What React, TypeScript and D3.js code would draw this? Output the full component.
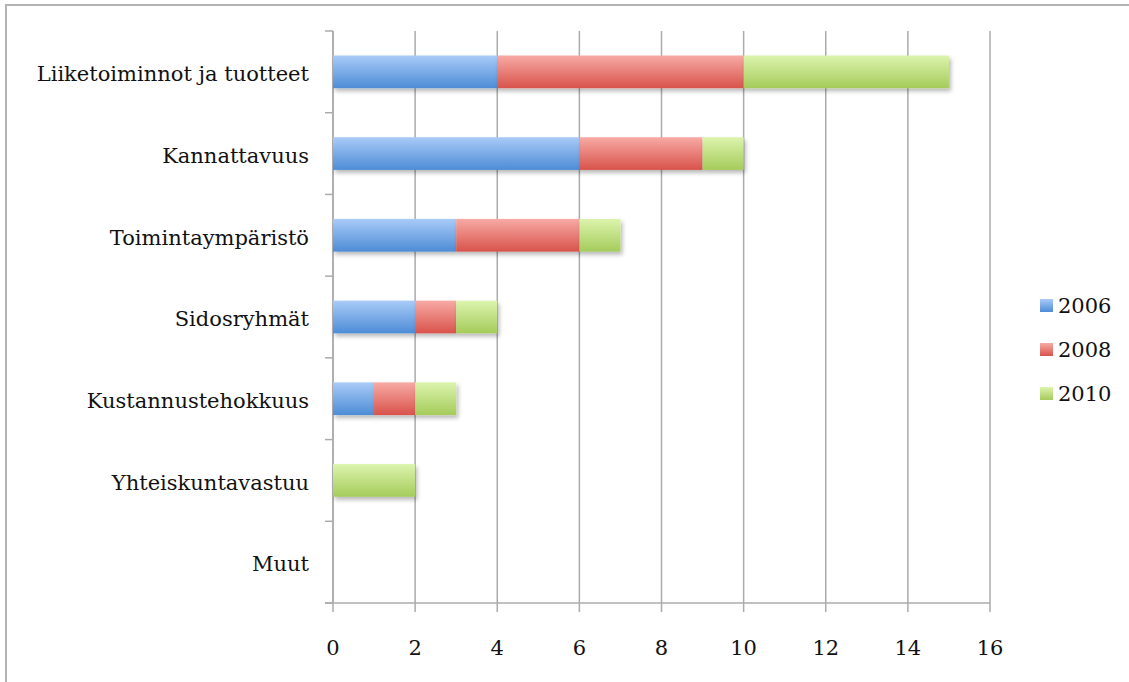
import React from "react";
import * as d3 from "d3";

const categories = [
  "Liiketoiminnot ja tuotteet",
  "Kannattavuus",
  "Toimintaympäristö",
  "Sidosryhmät",
  "Kustannustehokkuus",
  "Yhteiskuntavastuu",
  "Muut",
];
const years = ["2006", "2008", "2010"];
const values2006 = [4, 6, 3, 2, 1, 0, 0];
const values2008 = [6, 3, 3, 1, 1, 0, 0];
const values2010 = [5, 1, 1, 1, 1, 2, 0];
const xTicks = [0, 2, 4, 6, 8, 10, 12, 14, 16];

const gradients = [
  { id: "g2006", top: "#a9cbf8", bottom: "#4d8cd6" },
  { id: "g2008", top: "#f8aaa5", bottom: "#d8534b" },
  { id: "g2010", top: "#dcf4ad", bottom: "#a5cb5b" },
];

const W = 1129;
const H = 682;
const left = 333;
const right = 990;
const top = 31;
const bottom = 603;
const textStyle: React.CSSProperties = {
  fontFamily: "'DejaVu Serif', serif",
  fontSize: 21,
};

export default function App() {
  const x = d3.scaleLinear().domain([0, 16]).range([left, right]);
  const y = d3
    .scaleBand<string>()
    .domain(categories)
    .range([top, bottom])
    .paddingInner(0.6)
    .paddingOuter(0.3);
  const band = (bottom - top) / categories.length;

  const rows = categories.map((c, i) => ({
    c,
    vals: [values2006[i], values2008[i], values2010[i]],
  }));
  const stack = d3
    .stack<{ c: string; vals: number[] }, number>()
    .keys([0, 1, 2])
    .value((d, k) => d.vals[k]);
  const series = stack(rows);

  return (
    <svg
      width={W}
      height={H}
      style={{ position: "absolute", left: 0, top: 0, background: "#fff" }}
    >
      <defs>
        {gradients.map((g) => (
          <linearGradient key={g.id} id={g.id} x1="0" y1="0" x2="0" y2="1">
            <stop offset="0" stopColor={g.top} />
            <stop offset="1" stopColor={g.bottom} />
          </linearGradient>
        ))}
        <filter id="shadow" x="-10%" y="-30%" width="130%" height="180%">
          <feDropShadow dx="2" dy="3" stdDeviation="2" floodColor="#000" floodOpacity="0.28" />
        </filter>
      </defs>
      <rect x={6} y={5} width={W} height={H} fill="none" stroke="#b3b3b3" strokeWidth={2} />

      {/* vertical gridlines */}
      {xTicks.map((t) => (
        <line
          key={"g" + t}
          x1={x(t)}
          x2={x(t)}
          y1={top}
          y2={bottom + 9}
          stroke="#ababab"
          strokeWidth={1.5}
        />
      ))}
      {/* category axis */}
      <line x1={left} x2={left} y1={top} y2={bottom} stroke="#ababab" strokeWidth={1.5} />
      {d3.range(categories.length + 1).map((i) => (
        <line
          key={"t" + i}
          x1={left - 8}
          x2={left}
          y1={top + i * band}
          y2={top + i * band}
          stroke="#ababab"
          strokeWidth={1.5}
        />
      ))}
      <line x1={left - 8} x2={right} y1={bottom} y2={bottom} stroke="#ababab" strokeWidth={1.5} />

      {/* stacked bars */}
      {series.map((s, si) => (
        <g key={si} filter="url(#shadow)">
          {s.map((d) =>
            d[1] - d[0] > 0 ? (
              <rect
                key={d.data.c}
                x={x(d[0])}
                y={y(d.data.c)!}
                width={x(d[1]) - x(d[0])}
                height={y.bandwidth()}
                fill={`url(#${gradients[si].id})`}
              />
            ) : null
          )}
        </g>
      ))}

      {/* category labels */}
      {categories.map((c) => (
        <text
          key={c}
          x={309}
          y={y(c)! + y.bandwidth() / 2 + 2}
          dy="0.35em"
          textAnchor="end"
          style={textStyle}
          fill="#111"
        >
          {c}
        </text>
      ))}

      {/* value labels */}
      {xTicks.map((t) => (
        <text
          key={"l" + t}
          x={x(t)}
          y={648}
          dy="0.35em"
          textAnchor="middle"
          style={textStyle}
          fill="#111"
        >
          {t}
        </text>
      ))}

      {/* legend */}
      {years.map((yr, i) => (
        <g key={yr} transform={`translate(1040, ${299 + i * 44})`}>
          <rect x={0} y={0} width={13} height={13} fill={`url(#${gradients[i].id})`} />
          <text x={18} y={7} dy="0.35em" style={textStyle} fill="#111">
            {yr}
          </text>
        </g>
      ))}
    </svg>
  );
}
